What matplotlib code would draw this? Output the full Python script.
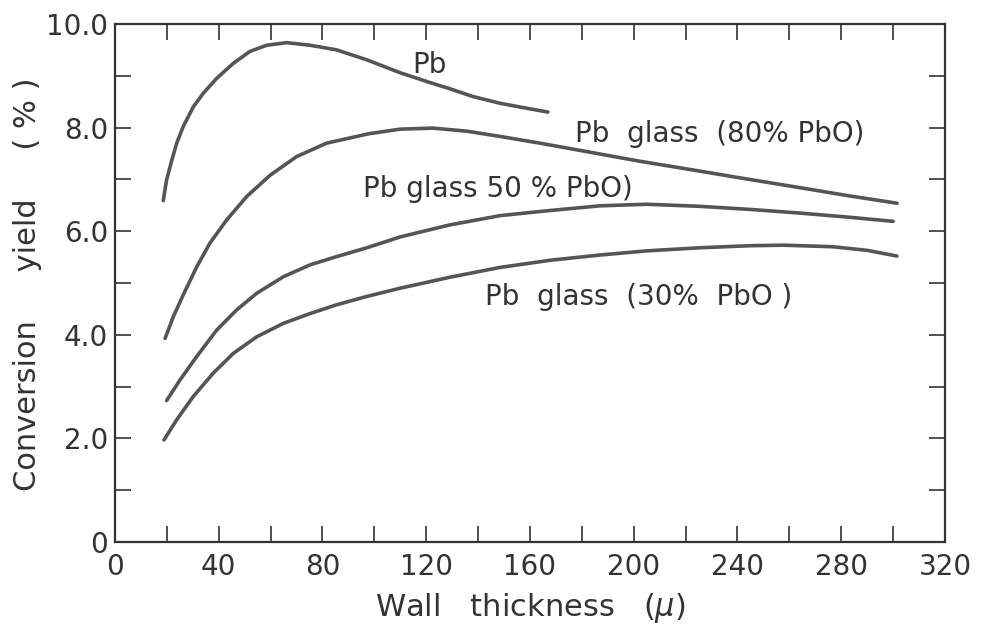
import numpy as np
import matplotlib.pyplot as plt

plt.rcParams['font.family'] = ['DejaVu Sans']
plt.rcParams['mathtext.fontset'] = 'dejavusans'

# Data (wall thickness in micron, conversion yield in %)
x_pb = [18.6, 19.9, 21.9, 23.8, 26.3, 30.2, 34.0, 39.2, 45.6, 52.0, 58.5, 66.2, 75.2, 85.5,
        97.0, 109.9, 121.4, 129.1, 138.0, 148.4, 158.0, 166.9]
y_pb = [6.59, 6.99, 7.37, 7.70, 8.02, 8.40, 8.66, 8.95, 9.24, 9.47, 9.59, 9.64, 9.59, 9.50,
        9.31, 9.06, 8.87, 8.75, 8.60, 8.47, 8.38, 8.30]

x_80 = [19.3, 22.5, 26.3, 31.5, 36.6, 43.1, 50.8, 59.8, 70.0, 81.6, 90.6, 97.7, 109.9, 122.6,
        135.7, 148.4, 163.8, 179.3, 202.4, 225.5, 240.9, 264.1, 283.3, 301.5]
y_80 = [3.93, 4.35, 4.77, 5.31, 5.77, 6.22, 6.67, 7.08, 7.44, 7.70, 7.80, 7.88, 7.97, 7.99,
        7.93, 7.83, 7.70, 7.56, 7.35, 7.16, 7.03, 6.84, 6.68, 6.54]

x_50 = [19.9, 25.1, 31.5, 39.2, 46.9, 54.6, 64.9, 75.2, 85.5, 97.1, 110.0, 129.0, 148.4, 163.8,
        187.0, 205.0, 225.5, 245.0, 264.0, 283.0, 300.0]
y_50 = [2.73, 3.13, 3.58, 4.09, 4.48, 4.80, 5.12, 5.35, 5.51, 5.68, 5.89, 6.12, 6.30, 6.38,
        6.49, 6.52, 6.48, 6.42, 6.35, 6.27, 6.19]

x_30 = [18.9, 23.8, 30.2, 37.9, 45.6, 54.6, 64.9, 75.2, 85.5, 97.1, 110.0, 129.0, 148.4, 168.0,
        187.0, 205.0, 225.5, 245.0, 257.5, 276.8, 290.0, 301.5]
y_30 = [1.97, 2.36, 2.81, 3.26, 3.64, 3.96, 4.22, 4.41, 4.58, 4.74, 4.90, 5.11, 5.30, 5.44,
        5.54, 5.62, 5.68, 5.72, 5.73, 5.70, 5.63, 5.52]

curve_text = ['Pb', 'Pb  glass  (80% PbO)', 'Pb glass 50 % PbO)', 'Pb  glass  (30%  PbO )']
text_x     = [114.5, 177.3, 95.6, 142.6]
text_y     = [9.05, 7.72, 6.66, 4.58]

x_ticks  = np.arange(0, 321, 40)
y_ticks  = [0, 2, 4, 6, 8, 10]
y_labels = ['0', '2.0', '4.0', '6.0', '8.0', '10.0']

ink = '#333333'

fig = plt.figure(figsize=(9.82, 6.35), dpi=100)
ax = fig.add_axes([0.1171, 0.1465, 0.8452, 0.8157])

for xs, ys in [(x_pb, y_pb), (x_80, y_80), (x_50, y_50), (x_30, y_30)]:
    ax.plot(xs, ys, color='#555555', linewidth=2.6, solid_capstyle='round')

for s, tx, ty in zip(curve_text, text_x, text_y):
    ax.text(tx, ty, s, fontsize=20, color=ink, ha='left', va='baseline')

ax.set_xlim(0, 320)
ax.set_ylim(0, 10)
ax.set_xticks(x_ticks)
ax.set_xticks(np.arange(0, 321, 20), minor=True)
ax.set_yticks(y_ticks)
ax.set_yticklabels(y_labels)
ax.set_yticks(np.arange(0, 11, 1), minor=True)

ax.tick_params(which='both', direction='in', top=True, right=True, colors=ink,
               length=11.5, width=1.2, labelsize=20)
ax.tick_params(axis='x', pad=8)
ax.tick_params(axis='y', pad=5)

for sp in ax.spines.values():
    sp.set_linewidth(1.6)
    sp.set_color(ink)

ax.set_xlabel('Wall   thickness   ($\\mu$)', fontsize=22, color=ink)
ax.set_ylabel('Conversion     yield     ( % )', fontsize=22, color=ink)
ax.xaxis.set_label_coords(0.5, -0.094)
ax.yaxis.set_label_coords(-0.088, 0.498)

fig.savefig('out.png', dpi=100)
